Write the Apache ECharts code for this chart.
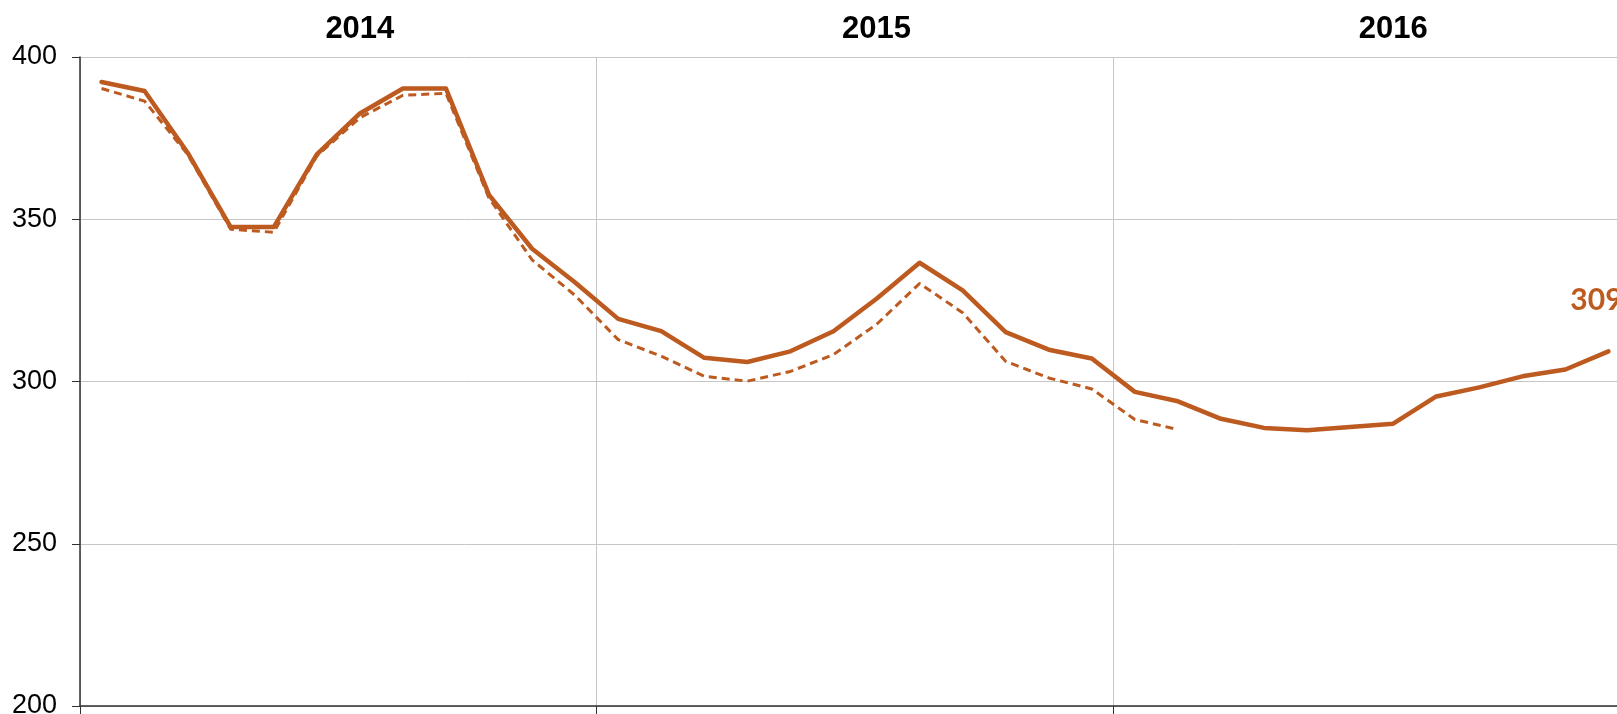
<!DOCTYPE html>
<html>
<head>
<meta charset="utf-8">
<script src="https://cdn.jsdelivr.net/npm/echarts@6/dist/echarts.min.js"></script>
<style>
  html, body { margin: 0; padding: 0; background: #fff; overflow: hidden; }
  #chart { width: 1617px; height: 714px; }
</style>
</head>
<body>
<div id="chart"></div>
<script>
// data
var years = ['2014', '2015', '2016']
var months = ['01', '02', '03', '04', '05', '06', '07', '08', '09', '10', '11', '12']
var yTicks = [200, 250, 300, 350, 400]

var solidValues = [
  392.3, 389.5, 370.5, 347.6, 347.6, 370.0, 382.6, 390.3, 390.3, 357.5, 340.9, 330.5,
  319.3, 315.5, 307.3, 306.0, 309.3, 315.5, 325.5, 336.6, 328.1, 315.2, 309.8, 307.1,
  296.8, 293.9, 288.5, 285.7, 285.0, 286.0, 287.0, 295.4, 298.2, 301.6, 303.7, 309.3
]
var dashedValues = [
  390.3, 386.4, 370.0, 346.9, 346.0, 369.5, 381.3, 388.2, 388.8, 356.5, 337.5, 326.5,
  312.9, 307.8, 301.6, 300.1, 303.1, 308.3, 317.6, 330.2, 321.2, 306.2, 301.1, 297.7,
  288.3, 285.2, null, null, null, null, null, null, null, null, null, null
]

var categories = []
years.forEach(function (y) {
  months.forEach(function (m) { categories.push(y + '-' + m) })
})

var lineColor = '#BD5A1F'
var gridColor = '#c6c6c6'
var lastIdx = solidValues.length - 1

var chart = echarts.init(document.getElementById('chart'))
chart.setOption({
  animation: false,
  // plot runs a little past the right edge and the 200 label is cut, as in the picture
  grid: { left: 80, right: -13, top: 57, bottom: 8, outerBoundsMode: 'none' },
  xAxis: [
    {
      type: 'category',
      data: categories,
      boundaryGap: true,
      axisLine: { show: true, lineStyle: { color: '#303030', width: 1.5 } },
      axisTick: {
        show: true,
        length: 8,
        interval: function (i) { return i % 12 === 0 },
        lineStyle: { color: '#303030' }
      },
      axisLabel: { show: false },
      splitLine: {
        show: true,
        interval: function (i) { return i % 12 === 0 },
        lineStyle: { color: gridColor, width: 1 }
      }
    },
    {
      type: 'category',
      data: categories,
      position: 'top',
      boundaryGap: true,
      axisLine: { show: false },
      axisTick: { show: false },
      splitLine: { show: false },
      axisLabel: {
        interval: function (i) { return i % 12 === 6 },
        formatter: function (v) { return v.slice(0, 4) },
        margin: 12,
        fontFamily: 'Liberation Sans',
        fontWeight: 'bold',
        fontSize: 31,
        color: '#000'
      }
    }
  ],
  yAxis: {
    type: 'value',
    min: yTicks[0],
    max: yTicks[yTicks.length - 1],
    interval: 50,
    axisLine: { show: true, lineStyle: { color: '#303030', width: 1.5 } },
    axisTick: { show: true, length: 8, lineStyle: { color: '#303030' } },
    axisLabel: {
      margin: 23,
      padding: [5, 0, 0, 0],
      fontFamily: 'Liberation Sans',
      fontSize: 27,
      color: '#000'
    },
    splitLine: { show: true, lineStyle: { color: gridColor, width: 1 } }
  },
  series: [
    {
      type: 'line',
      data: dashedValues,
      symbol: 'none',
      connectNulls: false,
      lineStyle: { color: lineColor, width: 3, type: [8, 5], cap: 'butt', join: 'round' },
      z: 2
    },
    {
      type: 'line',
      data: solidValues,
      symbol: 'none',
      lineStyle: { color: lineColor, width: 4.5, cap: 'round', join: 'round' },
      z: 3,
      markPoint: {
        symbol: 'circle',
        symbolSize: 0,
        data: [{ coord: [categories[lastIdx], solidValues[lastIdx]], value: solidValues[lastIdx] }],
        label: {
          show: true,
          position: 'inside',
          offset: [-12, -51],
          formatter: function (p) { return Math.round(p.value) },
          fontFamily: 'Lato',
          fontWeight: 'bold',
          fontSize: 30,
          color: lineColor
        }
      }
    }
  ]
})
</script>
</body>
</html>
